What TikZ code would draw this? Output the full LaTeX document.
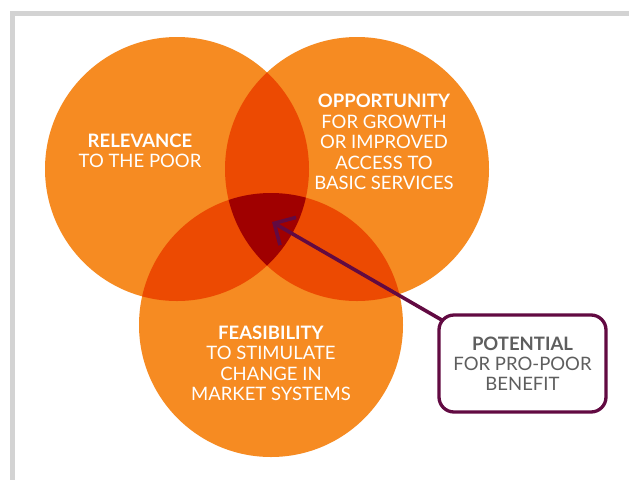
\documentclass[tikz,border=0pt]{standalone}
\usepackage{fontspec}
\setmainfont{Lato}
\usetikzlibrary{arrows.meta,calc}
\definecolor{orng}{HTML}{F68B22}
\definecolor{pairc}{HTML}{EC4A02}
\definecolor{tripc}{HTML}{A00000}
\definecolor{framec}{HTML}{D3D3D3}
\definecolor{plum}{HTML}{620A42}
\definecolor{txtgray}{HTML}{5E5E5E}
\tikzset{
  circtext/.style={text=white, align=center, inner sep=0pt, font=\fontsize{18.5}{20.5}\selectfont},
  boxtext/.style={text=txtgray, align=center, draw=plum, line width=3.3pt, rounded corners=15pt, fill=white,
     minimum width=167pt, minimum height=97pt, inner sep=0pt, font=\fontsize{18.5}{20}\selectfont},
  arr/.style={draw=plum, line width=3.6pt, -{Straight Barb[length=16pt,width=32pt]}}
}
\begin{document}
\begin{tikzpicture}[x=1pt,y=-1pt]
\useasboundingbox (0,0) rectangle (629,480);
\fill[white] (0,0) rectangle (629,480);
\fill[framec] (10,11) rectangle (629,16);
\fill[framec] (10,11) rectangle (15,480);
\def\rr{132pt}
\coordinate (cL) at (177,169);
\coordinate (cR) at (357,169);
\coordinate (cB) at (271,325);
\fill[orng] (cL) circle[radius=\rr];
\fill[orng] (cR) circle[radius=\rr];
\fill[orng] (cB) circle[radius=\rr];
\begin{scope}\clip (cL) circle[radius=\rr]; \fill[pairc] (cR) circle[radius=\rr]; \fill[pairc] (cB) circle[radius=\rr];\end{scope}
\begin{scope}\clip (cR) circle[radius=\rr]; \fill[pairc] (cB) circle[radius=\rr];\end{scope}
\begin{scope}\clip (cL) circle[radius=\rr]; \clip (cR) circle[radius=\rr]; \fill[tripc] (cB) circle[radius=\rr];\end{scope}
\node[circtext] (rel) at (140,151) {\textbf{RELEVANCE}\\TO THE POOR};
\node[circtext] (opp) at (384,142) {\textbf{OPPORTUNITY}\\FOR GROWTH\\OR IMPROVED\\ACCESS TO\\BASIC SERVICES};
\node[circtext] (fea) at (271,363.5) {\textbf{FEASIBILITY}\\TO STIMULATE\\CHANGE IN\\MARKET SYSTEMS};
\node[boxtext] (box) at (522.5,363.5) {\textbf{POTENTIAL}\\FOR PRO-POOR\\BENEFIT};
\coordinate (tip) at (272,222);
\coordinate (src) at ($(box.north west)+(5,7)$);
\draw[arr] (src) -- (tip);
\end{tikzpicture}
\end{document}
